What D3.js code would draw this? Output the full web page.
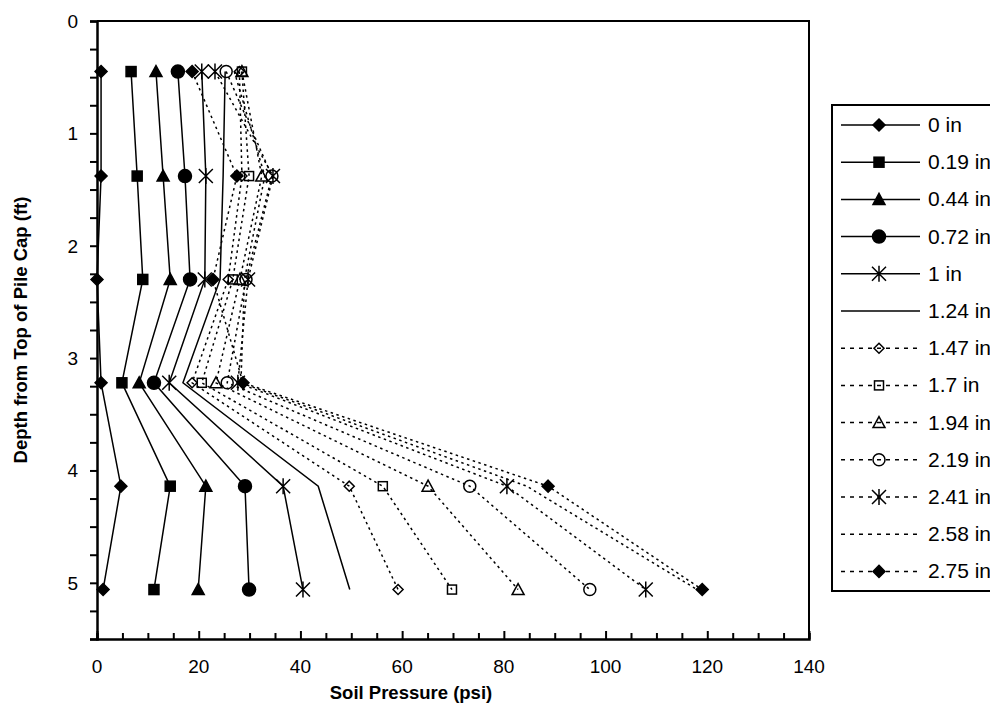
<!DOCTYPE html>
<html>
<head>
<meta charset="utf-8">
<script src="https://cdn.jsdelivr.net/npm/d3@7"></script>
<style>
  body { margin: 0; background: #fff; }
  text { font-family: "Liberation Sans", Arial, sans-serif; fill: #000; }
</style>
</head>
<body>
<script>
// depth of each reading (ft)
var depths = [0.45, 1.38, 2.3, 3.22, 4.14, 5.06];

// legend labels (pile cap displacement)
var seriesNames = ["0 in", "0.19 in", "0.44 in", "0.72 in", "1 in", "1.24 in",
                   "1.47 in", "1.7 in", "1.94 in", "2.19 in", "2.41 in", "2.58 in", "2.75 in"];

// soil pressure (psi) at each depth, one array per displacement
var p000 = [0.8, 0.8, 0.0, 0.8, 4.7, 1.2];
var p019 = [6.7, 7.9, 9.0, 4.9, 14.4, 11.2];
var p044 = [11.6, 13.0, 14.4, 8.3, 21.4, 19.9];
var p072 = [15.9, 17.3, 18.3, 11.2, 29.1, 29.9];
var p100 = [20.6, 21.4, 21.2, 14.2, 36.6, 40.5];
var p124 = [25.2, 24.8, 24.2, 16.9, 43.5, 49.7];
var p147 = [28.0, 28.5, 25.8, 18.7, 49.6, 59.2];
var p170 = [28.5, 29.9, 26.7, 20.6, 56.2, 69.8];
var p194 = [28.5, 32.4, 28.1, 23.4, 65.1, 82.8];
var p219 = [25.4, 34.4, 29.3, 25.6, 73.3, 96.9];
var p241 = [23.2, 34.6, 29.7, 27.7, 80.6, 107.9];
var p258 = [27.0, 33.0, 29.0, 28.3, 84.5, 118.0];
var p275 = [18.7, 27.5, 22.8, 28.7, 88.7, 119.0];

var pressures = [p000, p019, p044, p072, p100, p124, p147, p170, p194, p219, p241, p258, p275];
var markers = ["diamondF", "squareF", "triangleF", "circleF", "star", "none",
               "diamondO", "squareO", "triangleO", "circleO", "star", "none", "diamondF"];
var dotted  = [false, false, false, false, false, false, true, true, true, true, true, true, true];

var xTicks = [0, 20, 40, 60, 80, 100, 120, 140];
var yTicks = [0, 1, 2, 3, 4, 5];

var width = 990, height = 727;
var plotL = 97, plotR = 809, plotT = 21, plotB = 639;

var svg = d3.select("body").append("svg")
    .attr("width", width)
    .attr("height", height);

svg.append("rect").attr("width", width).attr("height", height).attr("fill", "#fff");

var x = d3.scaleLinear().domain([0, 140]).range([plotL, plotR]);
var y = d3.scaleLinear().domain([0, 5.5]).range([plotT, plotB]);

// plot frame (top and right)
svg.append("path")
   .attr("d", "M" + plotL + "," + plotT + "H" + plotR + "V" + plotB)
   .attr("fill", "none").attr("stroke", "#000").attr("stroke-width", 2);

// x axis: ticks point up into the plot
var xAxis = svg.append("g")
    .attr("transform", "translate(0," + plotB + ")")
    .call(d3.axisBottom(x).tickValues(d3.range(0, 141, 5)).tickSize(-6).tickFormat(""));
xAxis.select(".domain").attr("stroke-width", 2.5);
xAxis.selectAll(".tick line").attr("stroke-width", 2)
     .attr("y2", function(d){ return d % 20 === 0 ? -8 : -6; });
svg.append("g").selectAll("text").data(xTicks).enter().append("text")
   .attr("x", function(d){ return x(d); })
   .attr("y", 673)
   .attr("text-anchor", "middle")
   .style("font-size", "19px")
   .text(function(d){ return d; });

// y axis: ticks point left
var yAxis = svg.append("g")
    .attr("transform", "translate(" + plotL + ",0)")
    .call(d3.axisLeft(y).tickValues(d3.range(0, 5.51, 0.25)).tickSize(7).tickFormat(""));
yAxis.select(".domain").attr("stroke-width", 2.5);
yAxis.selectAll(".tick line").attr("stroke-width", 2);
svg.append("g").selectAll("text").data(yTicks).enter().append("text")
   .attr("x", 78)
   .attr("y", function(d){ return y(d) + 7; })
   .attr("text-anchor", "end")
   .style("font-size", "19px")
   .text(function(d){ return d; });

// axis titles
svg.append("text")
   .attr("x", 411).attr("y", 699)
   .attr("text-anchor", "middle")
   .style("font-size", "18.5px").style("font-weight", "bold")
   .text("Soil Pressure (psi)");
svg.append("text")
   .attr("transform", "translate(27,330) rotate(-90)")
   .attr("text-anchor", "middle")
   .style("font-size", "18.5px").style("font-weight", "bold")
   .text("Depth from Top of Pile Cap (ft)");

// marker drawing
function drawMarker(g, type) {
  if (type === "none") return;
  if (type === "diamondF" || type === "diamondO") {
    var s = type === "diamondF" ? 6 : 5;
    g.append("path").attr("d", "M0," + (-s) + "L" + s + ",0L0," + s + "L" + (-s) + ",0Z")
     .attr("fill", type === "diamondF" ? "#000" : "none")
     .attr("stroke", "#000").attr("stroke-width", 1.5);
  } else if (type === "squareF" || type === "squareO") {
    var h = type === "squareF" ? 5 : 4.5;
    g.append("rect").attr("x", -h).attr("y", -h).attr("width", 2 * h).attr("height", 2 * h)
     .attr("fill", type === "squareF" ? "#000" : "none")
     .attr("stroke", "#000").attr("stroke-width", 1.5);
  } else if (type === "triangleF" || type === "triangleO") {
    g.append("path").attr("d", "M0,-6L6,5L-6,5Z")
     .attr("fill", type === "triangleF" ? "#000" : "none")
     .attr("stroke", "#000").attr("stroke-width", 1.5);
  } else if (type === "circleF" || type === "circleO") {
    g.append("circle").attr("r", type === "circleF" ? 6.5 : 6)
     .attr("fill", type === "circleF" ? "#000" : "none")
     .attr("stroke", "#000").attr("stroke-width", 1.5);
  } else if (type === "star") {
    g.append("path").attr("d", "M-7,-7L7,7M-7,7L7,-7M0,-8V8")
     .attr("fill", "none").attr("stroke", "#000").attr("stroke-width", 1.5);
  }
}

var line = d3.line()
    .x(function(d){ return x(d.p); })
    .y(function(d){ return y(d.z); });

var series = seriesNames.map(function(name, i) {
  return { name: name, marker: markers[i], dotted: dotted[i],
           values: pressures[i].map(function(p, j){ return { p: p, z: depths[j] }; }) };
});

// draw later series first so the solid ones sit on top
var plot = svg.append("g");
series.slice().reverse().forEach(function(s) {
  plot.append("path")
      .datum(s.values)
      .attr("d", line)
      .attr("fill", "none")
      .attr("stroke", "#000")
      .attr("stroke-width", 1.5)
      .attr("stroke-dasharray", s.dotted ? "2.5,3.5" : null);
  s.values.forEach(function(v) {
    var g = plot.append("g").attr("transform", "translate(" + x(v.p) + "," + y(v.z) + ")");
    drawMarker(g, s.marker);
  });
});

// legend (box runs off the right edge, as in the source)
var legX = 832, rowH = 37.2;
svg.append("rect")
   .attr("x", legX).attr("y", 105).attr("width", 200).attr("height", 486)
   .attr("fill", "#fff").attr("stroke", "#000").attr("stroke-width", 2);

var leg = svg.selectAll("g.legendRow").data(series).enter().append("g")
    .attr("class", "legendRow")
    .attr("transform", function(d, i){ return "translate(" + legX + "," + (125 + i * rowH) + ")"; });
leg.append("line")
   .attr("x1", 9).attr("x2", 88).attr("y1", 0).attr("y2", 0)
   .attr("stroke", "#000").attr("stroke-width", 1.5)
   .attr("stroke-dasharray", function(d){ return d.dotted ? "4,5" : null; });
leg.each(function(d) {
  var g = d3.select(this).append("g").attr("transform", "translate(47,0)");
  drawMarker(g, d.marker);
});
leg.append("text")
   .attr("x", 96).attr("y", 7)
   .style("font-size", "21px")
   .text(function(d){ return d.name; });
</script>
</body>
</html>
